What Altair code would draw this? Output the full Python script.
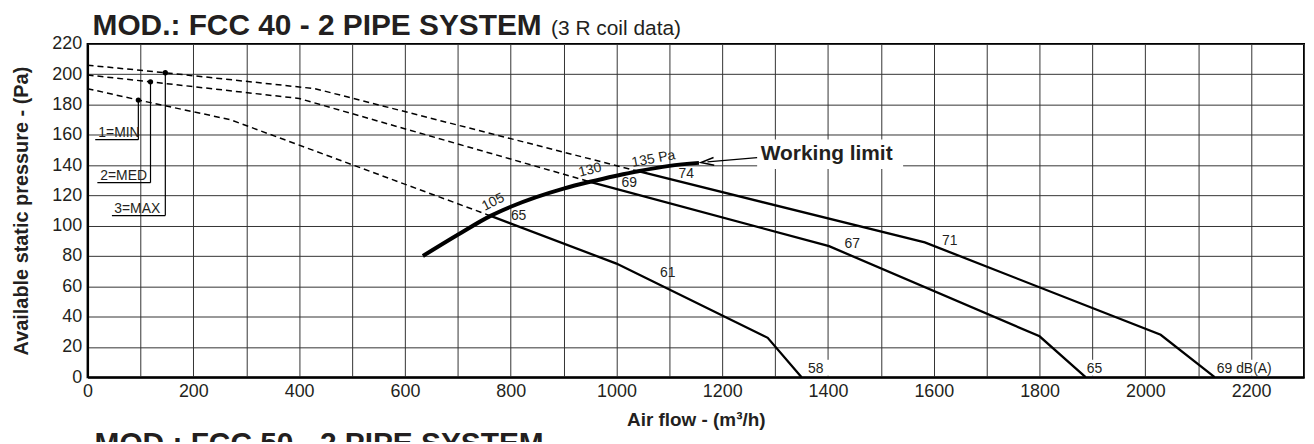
import altair as alt
import pandas as pd

FONT = "Liberation Sans"
INK = "#231f20"

# ---- fan speed curves (dashed part, left of the working limit) ----
min_x = [0, 96, 270, 762]
min_y = [190.5, 183, 170, 106.5]
med_x = [0, 119, 400, 950]
med_y = [199.5, 195, 184, 129]
max_x = [0, 147, 430, 1041]
max_y = [206, 201, 190.5, 136]

# ---- solid part (right of the working limit) ----
min_s_x = [762, 1000, 1286, 1350]
min_s_y = [106.5, 75, 26, 0]
med_s_x = [950, 1402, 1800, 1887]
med_s_y = [129, 86.5, 27, 0]
max_s_x = [1041, 1583, 2029, 2131]
max_s_y = [136, 89, 28, 0]

# ---- working limit curve ----
wl_x = [634, 700, 762, 800, 900, 950, 1000, 1041, 1100, 1156]
wl_y = [80, 94, 106.5, 112.5, 124.5, 129, 133, 136, 139.5, 141.5]

# ---- speed markers / labels ----
speed_dot_x = [96, 119, 147]
speed_dot_y = [183, 195, 201]
speed_labels = ["1=MIN", "2=MED", "3=MAX"]
speed_label_y = [156.8, 128.4, 106.7]
speed_label_x0 = [14.5, 18.5, 46]
speed_text_x = [20.3, 24, 50.4]

# ---- curve annotations ----
curve_label_text = ["105", "130", "135 Pa", "65", "69", "74", "61", "67", "71", "58", "65", "69 dB(A)"]
curve_label_x = [767, 950, 1070, 815, 1024, 1132, 1097, 1446, 1630, 1377, 1904, 2187]
curve_label_y = [115.5, 136.7, 144, 106.7, 128, 134.4, 68.6, 88, 90, 5.5, 5.5, 5.5]
curve_label_angle = [333, 346, 349.5, 0, 0, 0, 0, 0, 0, 0, 0, 0]

# white backgrounds behind some labels
bg_x0 = [1266, 1360, 1890, 2134]
bg_x1 = [1542, 1403, 1922, 2242]
bg_y0 = [137.5, 1, 1, 1]
bg_y1 = [157, 11.5, 11.5, 11.5]

# working limit annotation
wl_label = ["Working limit"]
wl_label_x = [1397.5]
wl_label_y = [143.2]
arrow_x0 = [1266]
arrow_y0 = [145]
arrow_x1 = [1172]
arrow_y1 = [142.1]

x_ticks = list(range(0, 2301, 100))
y_ticks = list(range(0, 221, 20))

xscale = alt.Scale(domain=[0, 2300], nice=False, zero=False)
yscale = alt.Scale(domain=[0, 220], nice=False, zero=False)

x_axis = alt.Axis(
    title="Air flow - (m³/h)", values=x_ticks,
    labelExpr="(datum.value % 200 == 0 && datum.value <= 2200) ? datum.label : ''",
    format="d", grid=True, gridColor="#333333", gridWidth=1, ticks=False,
    domainColor="black", domainWidth=2, labelFont=FONT, labelFontSize=18,
    labelColor=INK, labelPadding=5, labelFlush=False, labelOverlap=False,
    titleFont=FONT, titleFontSize=19, titleFontWeight="bold", titleColor=INK,
    titlePadding=11,
)
y_axis = alt.Axis(
    title="Available static pressure - (Pa)", values=y_ticks, format="d",
    grid=True, gridColor="#333333", gridWidth=1, ticks=False,
    domainColor="black", domainWidth=2, labelFont=FONT, labelFontSize=18,
    labelColor=INK, labelPadding=6, labelFlush=False, labelOverlap=False,
    titleFont=FONT, titleFontSize=20, titleFontWeight="bold", titleColor=INK,
    titlePadding=20,
)


def X(f="x"):
    return alt.X(f + ":Q", scale=xscale, axis=x_axis)


def Y(f="y"):
    return alt.Y(f + ":Q", scale=yscale, axis=y_axis)


def series(xs, ys, name):
    return pd.DataFrame({"x": xs, "y": ys, "s": name, "o": list(range(len(xs)))})


dashed_df = pd.concat([series(min_x, min_y, "min"), series(med_x, med_y, "med"),
                       series(max_x, max_y, "max")])
solid_df = pd.concat([series(min_s_x, min_s_y, "min"), series(med_s_x, med_s_y, "med"),
                      series(max_s_x, max_s_y, "max")])
wl_df = series(wl_x, wl_y, "wl")

bg_df = pd.DataFrame({"x": bg_x0, "x2": bg_x1, "y": bg_y0, "y2": bg_y1})
bg = alt.Chart(bg_df).mark_rect(color="white").encode(x=X(), x2="x2:Q", y=Y(), y2="y2:Q")

dashed = alt.Chart(dashed_df).mark_line(color="black", strokeWidth=1.5, strokeDash=[6, 4]).encode(
    x=X(), y=Y(), detail="s:N", order="o:Q")
solid = alt.Chart(solid_df).mark_line(color="black", strokeWidth=2.3).encode(
    x=X(), y=Y(), detail="s:N", order="o:Q")
wl = alt.Chart(wl_df).mark_line(color="black", strokeWidth=4, interpolate="monotone").encode(
    x=X(), y=Y(), order="o:Q")

lab_df = pd.DataFrame({"t": speed_labels, "x0": speed_label_x0, "x1": speed_dot_x,
                       "y": speed_label_y, "yd": speed_dot_y, "tx": speed_text_x})
under = alt.Chart(lab_df).mark_rule(color="black", strokeWidth=1.2).encode(
    x=X("x0"), x2="x1:Q", y=Y())
vert = alt.Chart(lab_df).mark_rule(color="black", strokeWidth=1.2).encode(
    x=X("x1"), y=Y(), y2="yd:Q")
dots = alt.Chart(lab_df).mark_circle(color="black", size=28, opacity=1).encode(
    x=X("x1"), y=Y("yd"))
speed_txt = alt.Chart(lab_df).mark_text(font=FONT, fontSize=14, color=INK, align="left",
                                        baseline="alphabetic", dy=-3).encode(
    x=X("tx"), y=Y(), text="t:N")

cl_df = pd.DataFrame({"t": curve_label_text, "x": curve_label_x, "y": curve_label_y,
                      "a": curve_label_angle})
curve_txt = alt.Chart(cl_df).mark_text(font=FONT, fontSize=14, color=INK, align="center",
                                       baseline="middle").encode(
    x=X(), y=Y(), text="t:N", angle=alt.Angle("a:Q", scale=None))

wl_txt_df = pd.DataFrame({"t": wl_label, "x": wl_label_x, "y": wl_label_y})
wl_txt = alt.Chart(wl_txt_df).mark_text(font=FONT, fontSize=21, fontWeight="bold", color=INK,
                                        align="center", baseline="alphabetic").encode(
    x=X(), y=Y(), text="t:N")

arrow_df = pd.DataFrame({"x": arrow_x0, "x2": arrow_x1, "y": arrow_y0, "y2": arrow_y1})
arrow_line = alt.Chart(arrow_df).mark_rule(color="black", strokeWidth=1.3).encode(
    x=X(), x2="x2:Q", y=Y(), y2="y2:Q")
arrow_head = alt.Chart(arrow_df).mark_point(
    shape="M 1 -0.6 L -1 0 L 1 0.6", filled=False, color="black", strokeWidth=1.5,
    size=170, opacity=1, angle=355).encode(x=X("x2"), y=Y("y2"))

title_df = pd.DataFrame({"t": ["MOD.: FCC 40 - 2 PIPE SYSTEM"]})
title_txt = alt.Chart(title_df).mark_text(font=FONT, fontSize=30, fontWeight="bold", color=INK,
                                          align="left", baseline="alphabetic").encode(
    x=alt.value(5), y=alt.value(-9), text="t:N")
sub_df = pd.DataFrame({"t": ["(3 R coil data)"]})
sub_txt = alt.Chart(sub_df).mark_text(font=FONT, fontSize=21, color=INK,
                                      align="left", baseline="alphabetic").encode(
    x=alt.value(466), y=alt.value(-9), text="t:N")
next_df = pd.DataFrame({"t": ["MOD.: FCC 50 - 2 PIPE SYSTEM"]})
next_txt = alt.Chart(next_df).mark_text(font=FONT, fontSize=30, fontWeight="bold", color=INK,
                                        align="left", baseline="alphabetic").encode(
    x=alt.value(7), y=alt.value(411), text="t:N")

chart = alt.layer(
    bg, dashed, solid, wl, under, vert, dots, speed_txt, curve_txt, wl_txt,
    arrow_line, arrow_head, title_txt, sub_txt, next_txt,
).properties(
    width=1223, height=335,
    padding={"left": 80, "top": 35, "right": 2, "bottom": 64},
    autosize=alt.AutoSizeParams(type="none"),
    background="white",
).configure_view(stroke="black", strokeWidth=2)

chart.save("out.html", embed_options={"renderer": "svg", "actions": False})
